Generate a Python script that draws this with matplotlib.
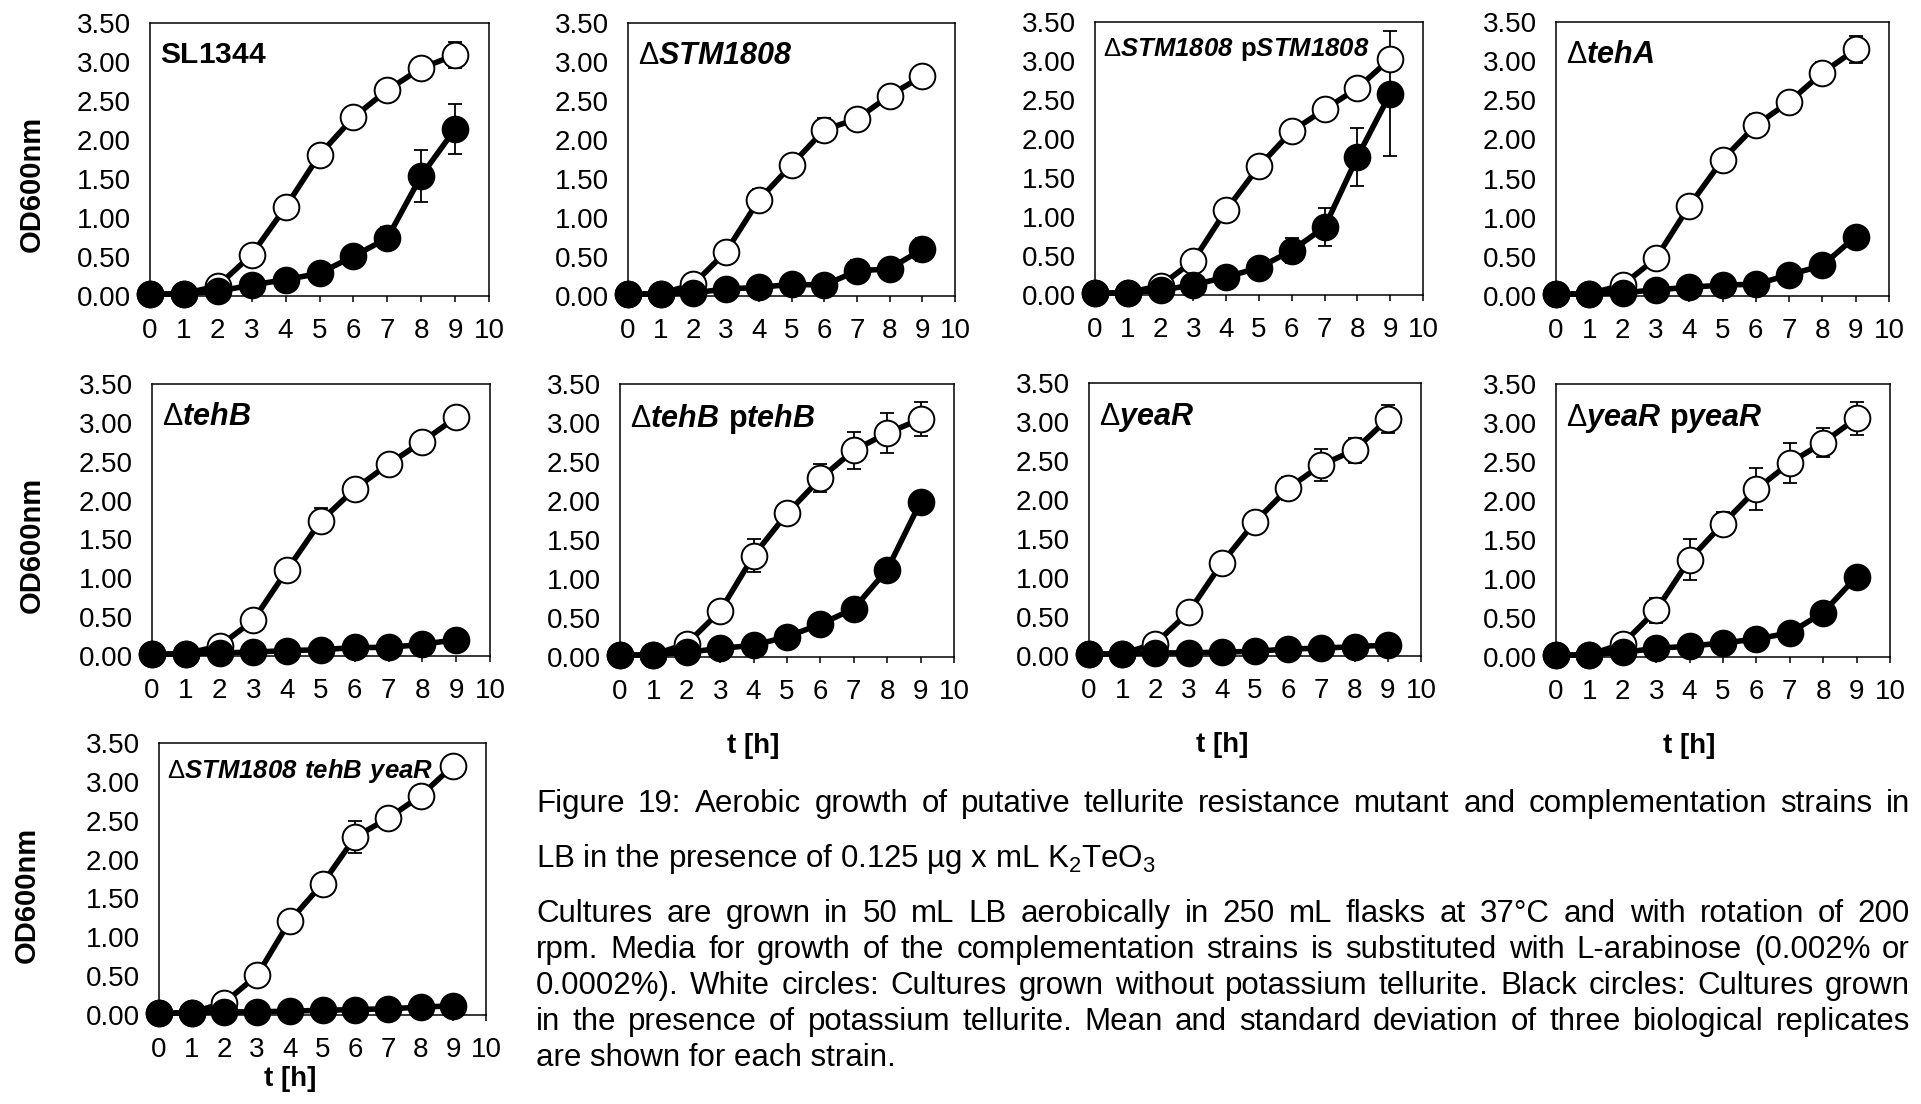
import matplotlib

matplotlib.use("Agg")

import matplotlib.pyplot as plt
import numpy as np

plt.rcParams["font.family"] = ["Liberation Sans", "DejaVu Sans"]
plt.rcParams["mathtext.fontset"] = "custom"
plt.rcParams["mathtext.rm"] = "Liberation Sans"
plt.rcParams["mathtext.sf"] = "Liberation Sans:italic:bold"
plt.rcParams["mathtext.bf"] = "Liberation Sans:bold"

# time points [h]
hours = [0, 1, 2, 3, 4, 5, 6, 7, 8, 9]

# OD600 means and standard deviations
sl1344_white = [0.02, 0.03, 0.13, 0.53, 1.14, 1.81, 2.29, 2.64, 2.92, 3.09]
sl1344_white_sd = [0.01, 0.01, 0.02, 0.03, 0.04, 0.13, 0.04, 0.07, 0.13, 0.17]
sl1344_black = [0.02, 0.03, 0.06, 0.14, 0.21, 0.29, 0.51, 0.74, 1.54, 2.14]
sl1344_black_sd = [0.01, 0.01, 0.01, 0.02, 0.03, 0.04, 0.08, 0.14, 0.33, 0.32]

stm1808_white = [0.02, 0.03, 0.15, 0.57, 1.23, 1.68, 2.13, 2.27, 2.57, 2.82]
stm1808_white_sd = [0.01, 0.01, 0.03, 0.07, 0.14, 0.05, 0.15, 0.13, 0.04, 0.04]
stm1808_black = [0.02, 0.03, 0.04, 0.09, 0.11, 0.15, 0.14, 0.32, 0.35, 0.60]
stm1808_black_sd = [0.01, 0.01, 0.01, 0.02, 0.02, 0.03, 0.03, 0.14, 0.05, 0.15]

stm1808_comp_white = [0.02, 0.03, 0.12, 0.44, 1.09, 1.65, 2.10, 2.38, 2.65, 3.03]
stm1808_comp_white_sd = [0.01, 0.01, 0.02, 0.04, 0.05, 0.05, 0.05, 0.06, 0.06, 0.10]
stm1808_comp_black = [0.02, 0.03, 0.06, 0.13, 0.23, 0.35, 0.57, 0.87, 1.77, 2.58]
stm1808_comp_black_sd = [0.01, 0.01, 0.01, 0.02, 0.03, 0.04, 0.16, 0.24, 0.37, 0.80]

teha_white = [0.02, 0.03, 0.14, 0.48, 1.15, 1.74, 2.18, 2.48, 2.85, 3.15]
teha_white_sd = [0.01, 0.01, 0.02, 0.04, 0.04, 0.05, 0.14, 0.04, 0.14, 0.17]
teha_black = [0.02, 0.03, 0.04, 0.08, 0.11, 0.14, 0.15, 0.27, 0.39, 0.76]
teha_black_sd = [0.01, 0.01, 0.01, 0.01, 0.02, 0.02, 0.02, 0.03, 0.03, 0.04]

tehb_white = [0.02, 0.03, 0.13, 0.46, 1.11, 1.74, 2.15, 2.47, 2.76, 3.07]
tehb_white_sd = [0.01, 0.01, 0.02, 0.03, 0.04, 0.16, 0.04, 0.05, 0.07, 0.04]
tehb_black = [0.02, 0.03, 0.04, 0.05, 0.07, 0.08, 0.11, 0.11, 0.15, 0.21]
tehb_black_sd = [0.01, 0.01, 0.01, 0.01, 0.01, 0.01, 0.02, 0.02, 0.02, 0.03]

tehb_comp_white = [0.02, 0.03, 0.17, 0.59, 1.30, 1.84, 2.29, 2.65, 2.87, 3.05]
tehb_comp_white_sd = [0.01, 0.01, 0.03, 0.05, 0.21, 0.14, 0.18, 0.24, 0.26, 0.22]
tehb_comp_black = [0.02, 0.03, 0.06, 0.11, 0.15, 0.26, 0.42, 0.62, 1.12, 1.99]
tehb_comp_black_sd = [0.01, 0.01, 0.01, 0.02, 0.02, 0.03, 0.03, 0.04, 0.04, 0.05]

year_white = [0.02, 0.03, 0.16, 0.56, 1.19, 1.72, 2.15, 2.45, 2.64, 3.04]
year_white_sd = [0.01, 0.01, 0.03, 0.04, 0.04, 0.05, 0.15, 0.20, 0.16, 0.18]
year_black = [0.02, 0.03, 0.04, 0.04, 0.05, 0.06, 0.09, 0.10, 0.12, 0.14]
year_black_sd = [0.01, 0.01, 0.01, 0.01, 0.01, 0.01, 0.02, 0.02, 0.02, 0.02]

year_comp_white = [0.02, 0.03, 0.17, 0.60, 1.25, 1.71, 2.15, 2.49, 2.75, 3.06]
year_comp_white_sd = [0.01, 0.01, 0.03, 0.16, 0.26, 0.15, 0.27, 0.26, 0.19, 0.21]
year_comp_black = [0.02, 0.03, 0.06, 0.11, 0.14, 0.18, 0.23, 0.31, 0.57, 1.03]
year_comp_black_sd = [0.01, 0.01, 0.01, 0.02, 0.02, 0.02, 0.03, 0.03, 0.04, 0.05]

triple_white = [0.02, 0.03, 0.16, 0.51, 1.21, 1.69, 2.29, 2.53, 2.82, 3.21]
triple_white_sd = [0.01, 0.01, 0.02, 0.03, 0.04, 0.04, 0.20, 0.04, 0.04, 0.04]
triple_black = [0.02, 0.03, 0.04, 0.04, 0.05, 0.06, 0.07, 0.08, 0.10, 0.12]
triple_black_sd = [0.01, 0.01, 0.01, 0.01, 0.01, 0.01, 0.01, 0.01, 0.02, 0.02]

# Delta regular, gene names bold italic, plasmid "p" bold
strain_labels = [
    r"$\mathbf{SL1344}$",
    r"$\mathrm{\Delta}\mathsf{STM1808}$",
    r"$\mathrm{\Delta}\mathsf{STM1808}\ \mathbf{p}\mathsf{STM1808}$",
    r"$\mathrm{\Delta}\mathsf{tehA}$",
    r"$\mathrm{\Delta}\mathsf{tehB}$",
    r"$\mathrm{\Delta}\mathsf{tehB}\ \mathbf{p}\mathsf{tehB}$",
    r"$\mathrm{\Delta}\mathsf{yeaR}$",
    r"$\mathrm{\Delta}\mathsf{yeaR}\ \mathbf{p}\mathsf{yeaR}$",
    r"$\mathrm{\Delta}\mathsf{STM1808\ tehB\ yeaR}$",
]
panel_series = [
    (sl1344_white, sl1344_white_sd, sl1344_black, sl1344_black_sd),
    (stm1808_white, stm1808_white_sd, stm1808_black, stm1808_black_sd),
    (stm1808_comp_white, stm1808_comp_white_sd, stm1808_comp_black, stm1808_comp_black_sd),
    (teha_white, teha_white_sd, teha_black, teha_black_sd),
    (tehb_white, tehb_white_sd, tehb_black, tehb_black_sd),
    (tehb_comp_white, tehb_comp_white_sd, tehb_comp_black, tehb_comp_black_sd),
    (year_white, year_white_sd, year_black, year_black_sd),
    (year_comp_white, year_comp_white_sd, year_comp_black, year_comp_black_sd),
    (triple_white, triple_white_sd, triple_black, triple_black_sd),
]

caption_title = [
    "Figure 19: Aerobic growth of putative tellurite resistance mutant and complementation strains in",
    r"LB in the presence of 0.125 µg x mL K$_\mathrm{2}$TeO$_\mathrm{3}$",
]
caption_body = [
    "Cultures are grown in 50 mL LB aerobically in 250 mL flasks at 37°C and with rotation of 200",
    "rpm. Media for growth of the complementation strains is substituted with L-arabinose (0.002% or",
    "0.0002%). White circles: Cultures grown without potassium tellurite. Black circles: Cultures grown",
    "in the presence of potassium tellurite. Mean and standard deviation of three biological replicates",
    "are shown for each strain.",
]

W, H = 1921, 1104
fig = plt.figure(figsize=(W / 100, H / 100), dpi=100)

# panel boxes in pixels: left, top, right, bottom
boxes = [
    (150, 23, 489, 296), (628, 23, 955, 296), (1095, 22, 1423, 295), (1556, 22, 1889, 296),
    (152, 384, 490, 656), (620, 384, 954, 657), (1089, 383, 1421, 656), (1556, 384, 1890, 657),
    (159, 743, 486, 1015),
]
label_sizes = [21.5, 22, 18.5, 22, 22, 22, 22, 22, 18.5]
ylabel_pos = {0: (-0.35, 0.41), 4: (-0.357, 0.41), 8: (-0.405, 0.44)}
xlabel_pos = {5: -0.325, 6: -0.325, 7: -0.325, 8: -0.235}

for i, (box, label, series) in enumerate(zip(boxes, strain_labels, panel_series)):
    left, top, right, bottom = box
    ax = fig.add_axes([left / W, 1 - bottom / H, (right - left) / W, (bottom - top) / H])
    white, white_sd, black, black_sd = series
    for mean, sd in ((white, white_sd), (black, black_sd)):
        ax.errorbar(hours, mean, yerr=sd, fmt="none", ecolor="black", elinewidth=1.3,
                    capsize=5, capthick=1.3, zorder=2, clip_on=False)
    ax.plot(hours, white, "-o", color="black", lw=4, ms=18.5, mfc="white", mec="black",
            mew=1.4, zorder=3, clip_on=False)
    ax.plot(hours, black, "-o", color="black", lw=4, ms=18.5, mfc="black", mec="black",
            mew=1.4, zorder=4, clip_on=False)

    ax.set_xlim(0, 10)
    ax.set_ylim(0, 3.5)
    ax.set_xticks(np.arange(0, 11, 1))
    ax.set_yticks(np.arange(0, 3.51, 0.5))
    ax.set_yticklabels([f"{v:.2f}" for v in np.arange(0, 3.51, 0.5)])
    ax.tick_params(axis="x", direction="out", length=4.5, width=1.1, pad=11, labelsize=20)
    ax.tick_params(axis="y", length=0, pad=14, labelsize=20)
    for spine in ax.spines.values():
        spine.set_linewidth(1.1)

    small = label_sizes[i] < 20
    ax.annotate(label, xy=(0, 1), xycoords="axes fraction",
                xytext=(6 if small else 7, -10 if small else -13), textcoords="offset points",
                ha="left", va="top", fontsize=label_sizes[i], zorder=6)

    if i in ylabel_pos:
        ax.set_ylabel("OD600nm", fontsize=21, fontweight="bold")
        ax.yaxis.set_label_coords(*ylabel_pos[i])
        ax.yaxis.label.set_verticalalignment("center")
    if i in xlabel_pos:
        ax.set_xlabel("t [h]", fontsize=20, fontweight="bold")
        ax.xaxis.set_label_coords(0.40, xlabel_pos[i])
        ax.xaxis.label.set_verticalalignment("center")

# caption, justified like the source document
renderer = fig.canvas.get_renderer()
cap_left, cap_right = 536, 1910
cap_size = 22.5


def draw_line(text, baseline, justify):
    y = 1 - baseline / H
    if not justify:
        fig.text(cap_left / W, y, text, fontsize=cap_size, ha="left", va="baseline")
        return
    words = text.split(" ")
    items = [fig.text(0, y, w, fontsize=cap_size, ha="left", va="baseline") for w in words]
    widths = [t.get_window_extent(renderer).width for t in items]
    gap = (cap_right - cap_left - sum(widths)) / (len(words) - 1)
    x = cap_left
    for t, w in zip(items, widths):
        t.set_x(x / W)
        x += w + gap


draw_line(caption_title[0], 812, True)
draw_line(caption_title[1], 867, False)
body_baselines = [922, 958, 994, 1030, 1066]
for j, (line, b) in enumerate(zip(caption_body, body_baselines)):
    draw_line(line, b, j < len(caption_body) - 1)

fig.savefig("out.png", dpi=100)
plt.close(fig)
